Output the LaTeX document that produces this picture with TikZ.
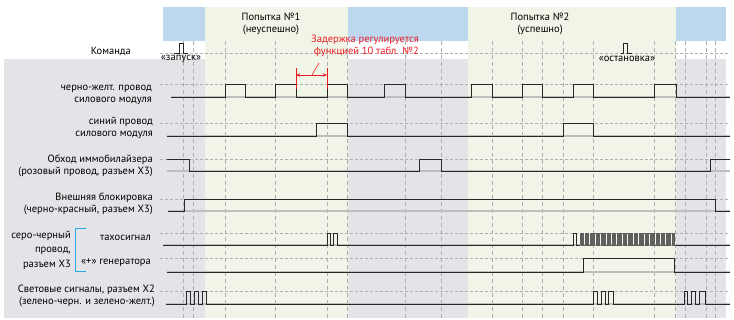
\documentclass[tikz,border=0pt]{standalone}
\usepackage{fontspec}
\setmainfont{PT Sans}
\usetikzlibrary{arrows.meta}
\definecolor{bgblue}{RGB}{189,215,238}
\definecolor{bggreen}{RGB}{240,245,231}
\definecolor{bggrey}{RGB}{228,228,232}
\definecolor{redann}{RGB}{237,28,36}
\definecolor{brblue}{RGB}{41,171,226}
\definecolor{sigc}{RGB}{40,40,40}
\definecolor{burstc}{RGB}{95,95,95}
\definecolor{basec}{RGB}{190,190,190}
\definecolor{dashc}{RGB}{175,175,178}
\begin{document}
\begin{tikzpicture}[x=1pt,y=-1pt,
  font=\fontsize{10.5}{12}\selectfont,
  sig/.style={draw=sigc,line width=0.9pt,line join=miter},
  base/.style={draw=basec,line width=1.1pt},
  hi/.style={draw=dashc,line width=0.6pt,dash pattern=on 3pt off 2pt},
  vgrid/.style={draw=dashc,line width=0.6pt,dash pattern=on 4pt off 3pt},
  lab/.style={anchor=east,align=right,inner sep=0pt},
  redl/.style={draw=redann,line width=0.8pt},
]
\useasboundingbox (0,0) rectangle (734,320);
\fill[white] (0,0) rectangle (734,320);
% background regions
\fill[bggreen] (205,7) rectangle (348,318);
\fill[bggreen] (468,7) rectangle (676,318);
\fill[bgblue] (163,7) rectangle (205,41);
\fill[bgblue] (348,7) rectangle (468,41);
\fill[bgblue] (676,7) rectangle (726,41);
\fill[bggrey] (4,59) rectangle (205,318);
\fill[bggrey] (348,59) rectangle (468,318);
\fill[bggrey] (676,59) rectangle (726,318);
% vertical grid
\foreach \x in {183,193,225,275,327,347,405,441,492,522,542,563,593,654,675,685,706,715}
  \draw[vgrid] (\x,41) -- (\x,318);
% horizontal high levels
\foreach \y in {53,84,123,159,199,233,258,291}
  \draw[hi] (160,\y) -- (730,\y);
% baselines
\draw[base] (171,97) -- (730,97);
\draw[base] (167,136) -- (730,136);
\draw[base] (167,171) -- (730,171);
\draw[base] (168,211) -- (730,211);
\draw[base] (163,245) -- (730,245);
\draw[base] (167,272) -- (730,272);
\draw[base] (166,304) -- (730,304);
% command pulses
\draw[sig] (174,53) -| (179,43) -| (183,53) -- (188,53);
\draw[sig] (621,53) -| (623,43) -| (627,53) -- (632,53);
% row 1
\draw[sig] (171,97) -| (225,84) -| (245,97) -| (275,84) -| (296,97) -| (327,84) -| (347,97)
  -| (384,84) -| (405,97) -| (471,84) -| (492,97) -| (522,84) -| (542,97) -| (573,84) -| (593,97)
  -| (654,84) -| (676,97) -- (730,97);
% row 2
\draw[sig] (167,136) -| (316,123) -| (347,136) -| (563,123) -| (593,136) -- (730,136);
% row 3
\draw[sig] (167,159) -| (189,171) -| (419,159) -| (441,171) -| (710,159) -- (730,159);
% row 4
\draw[sig] (168,211) -| (184,199) -| (715,211) -- (730,211);
% row 5 tacho
\draw[sig] (163,245) -| (327,233) -| (330,245) -| (333,233) -| (337,245) -| (573,233) -| (576,245) -- (580,245);
\draw[draw=burstc,line width=0.45pt] (580,245)
  \foreach \i in {1,...,39} { -- ++(0,-12) -- ++(1.2,0) -- ++(0,12) -- ++(1.25,0) };
\draw[sig] (675.5,245) -- (730,245);
% row 6
\draw[sig] (167,272) -| (583,258) -| (674,272) -- (730,272);
% row 7
\draw[sig] (166,304) -| (186,291) -| (190,304) -| (194,291) -| (198,304) -| (202,291) -| (206,304)
  -| (593,291) -| (597,304) -| (601,291) -| (605,304) -| (608,291) -| (613,304)
  -| (684,291) -| (687,304) -| (691,291) -| (695,304) -| (699,291) -| (705,304) -- (730,304);
% bracket
\draw[brblue,line width=1pt] (86,229) -- (75,229) -- (75,272) -- (86,272);
% red annotation
\coordinate (dA) at (296,75);
\coordinate (dB) at (327,75);
\coordinate (lA) at (312,75);
\coordinate (lB) at (319,63);
\draw[redl] (296,68) -- (296,89);
\draw[redl] (327,68) -- (327,89);
\draw[redl,{Stealth[length=4pt,width=3.5pt]}-{Stealth[length=4pt,width=3.5pt]}] (dA) -- (dB);
\draw[redl,line width=0.6pt] (lA) -- (lB);
\node[anchor=east,align=right,inner sep=0pt,text=redann] (red) at (419,46) {Задержка регулируется\\функцией 10 табл. №2};
% top titles
\node[align=center,inner sep=0pt] (p1) at (271,24) {Попытка №1\\(неуспешно)};
\node[align=center,inner sep=0pt] (p2) at (540,24) {Попытка №2\\(успешно)};
\node[inner sep=0pt] (zap) at (181,59) {«запуск»};
\node[inner sep=0pt] (ost) at (627,59) {«остановка»};
% labels
\node[lab] (l0) at (131,51) {Команда};
\node[lab] (l1) at (152,95) {черно-желт. провод\\силового модуля};
\node[lab] (l2) at (153,128) {синий провод\\силового модуля};
\node[lab] (l3) at (153,166) {Обход иммобилайзера\\(розовый провод, разъем Х3)};
\node[lab] (l4) at (153,204) {Внешняя блокировка\\(черно-красный, разъем Х3)};
\node[lab,font=\fontsize{10.5}{14.5}\selectfont] (l5) at (71,250) {серо-черный\\провод,\\разъем Х3};
\node[lab] (l6) at (151,238) {тахосигнал};
\node[lab] (l7) at (151,263) {«+» генератора};
\node[lab] (l8) at (155,296) {Световые сигналы, разъем Х2\\(зелено-черн. и зелено-желт.)};
\end{tikzpicture}
\end{document}
